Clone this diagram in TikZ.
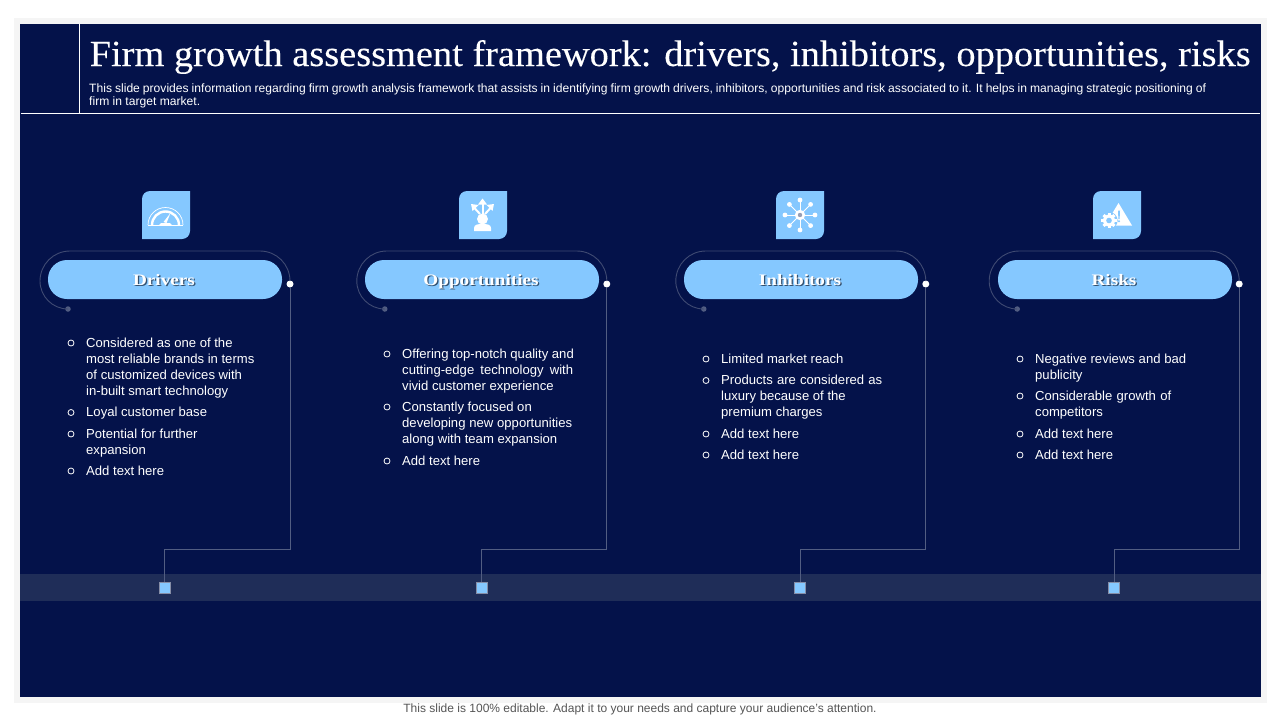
\documentclass[tikz,border=0pt]{standalone}
\usepackage{fontspec}
\setmainfont{Liberation Sans}
\newfontfamily\titlefont[FakeStretch=1.043,FakeBold=0.15]{Liberation Serif}
\newfontfamily\pillfont[FakeStretch=1.2]{Liberation Serif}
\definecolor{slidebg}{HTML}{04124A}
\definecolor{bandc}{HTML}{1F2D58}
\definecolor{skyc}{HTML}{85C8FF}
\definecolor{linec}{HTML}{525D82}
\definecolor{arcc}{HTML}{3F4A72}
\definecolor{footc}{HTML}{555555}
\definecolor{shc}{HTML}{33506F}
\newcommand{\pilltext}[1]{\hspace*{-2pt}\rlap{\raisebox{-1.2pt}{\hspace{1.2pt}\textcolor{shc}{#1}}}#1}
\newcommand{\iconbox}[1]{\fill[skyc] (#1+8,191) -- (#1+48,191) -- (#1+48,231) arc[start angle=0,end angle=90,radius=8] -- (#1,239) -- (#1,199) arc[start angle=180,end angle=270,radius=8] -- cycle;}
\newcommand{\curl}[3]{% L, index, square x
  \node[gdot] (g#2) at (#1+28,309) {};
  \node[wdot] (w#2) at (#1+250,284) {};
  \node[sqm] (s#2) at (#3,588) {};
  \coordinate (c#2) at (#3,549);
  \draw[arcline] (g#2.center) arc[start angle=90,end angle=180,radius=28] arc[start angle=180,end angle=270,radius=30] -- (#1+220,251) arc[start angle=270,end angle=360,radius=30] -- (w#2);
  \draw[conn] (w#2) |- (c#2) -- (s#2);
}
\newcommand{\bitem}[5]{% name, bullet x, text x, centre y of first line, text
  \node[bul] (b#1) at (#2,#4+1) {};
  \node[body] (t#1) at (#3,#4-4.6) {#5};
}
\newcommand{\sw}[2]{\makebox[#1pt][s]{#2}}
\tikzset{
  x=1pt,y=-1pt,
  gdot/.style={circle,fill=linec,draw=none,minimum size=5.5pt,inner sep=0pt},
  wdot/.style={circle,fill=white,draw=none,minimum size=7pt,inner sep=0pt},
  sqm/.style={rectangle,fill=skyc,draw=linec!70!white,line width=0.8pt,minimum size=11.5pt,inner sep=0pt},
  conn/.style={draw=linec,line width=0.9pt},
  arcline/.style={draw=arcc,line width=0.9pt},
  pill/.style={rectangle,rounded corners=19pt,fill=skyc,minimum width=234pt,minimum height=39pt,inner sep=0pt,text=white,text height=15pt,text depth=4pt,font=\pillfont\bfseries\fontsize{16}{18}\selectfont},
  bul/.style={circle,draw=white,line width=0.8pt,minimum size=6pt,inner sep=0pt},
  body/.style={anchor=north west,inner sep=0pt,text=white,align=left,font=\fontsize{13.1}{16}\selectfont},
  wline/.style={draw=white,line width=0.9pt}
}
\begin{document}
\begin{tikzpicture}
\useasboundingbox (0,0) rectangle (1280,720);
\fill[white] (0,0) rectangle (1280,720);
\fill[black!4] (14,18) rectangle (1267,703);
\fill[slidebg] (20,24) rectangle (1261,697);
\fill[bandc] (20,574) rectangle (1261,601);
% header
\coordinate (h1) at (79.5,24);
\coordinate (h2) at (79.5,113.5);
\coordinate (h3) at (21,113.5);
\coordinate (h4) at (1260,113.5);
\draw[wline] (h1) -- (h2);
\draw[wline] (h3) -- (h4);
\node[anchor=base west,inner sep=0pt,text=white,font=\titlefont\fontsize{36.8}{40}\selectfont] (title) at (89.5,66) {Firm growth assessment framework: drivers, inhibitors, opportunities, risks};
\node[body,font=\fontsize{12.1}{13}\selectfont] (sub) at (89,84) {\sw{1117}{This slide provides information regarding firm growth analysis framework that assists in identifying firm growth drivers, inhibitors, opportunities and risk associated to it. It helps in managing strategic positioning of}\\firm in target market.};
% icons
\iconbox{142}\iconbox{459}\iconbox{776}\iconbox{1093}
% gauge
\draw[white,line width=0.7pt] (148,225) arc[start angle=180,end angle=360,radius=17.5];
\draw[white,line width=2.4pt] (152,225) arc[start angle=180,end angle=360,radius=13.5];
\draw[white,line width=0.8pt] (148,225.5) -- (183,225.5);
\fill[white] (170.5,213) -- (163.5,222) -- (166.5,223) -- cycle;
\fill[white] (159,225) -- (161,223) -- (170,223) -- (172,225) -- cycle;
% person with arrows
\begin{scope}[white]
\fill (482.5,219) circle[radius=5.5];
\fill (474,231) -- (474,228) .. controls (474,224.5) and (478,224) .. (482.5,224) .. controls (487,224) and (491,224.5) .. (491,228) -- (491,231) -- cycle;
\draw[line width=2pt] (482.5,214) -- (482.5,203);
\fill (482.5,198.5) -- (487,204.5) -- (478,204.5) -- cycle;
\draw[line width=2pt] (480,214) -- (474,207.5);
\fill (471,204) -- (478.5,205) -- (472.5,211) -- cycle;
\draw[line width=2pt] (485,214) -- (491,207.5);
\fill (494,204) -- (486.5,205) -- (492.5,211) -- cycle;
\end{scope}
% network
\foreach \a in {0,45,...,315}{
  \draw[white,line width=0.9pt] (800,215) -- ++(\a:15);
  \fill[white] (800,215) ++(\a:15) circle[radius=2.4];
}
\fill[white] (800,215) circle[radius=5.2];
\fill[linec!60!white] (800,215) circle[radius=2.2];
% warning and gear
\fill[white] (1118.5,203) -- (1132,225.5) -- (1105,225.5) -- cycle;
\fill[skyc] (1118,210.5) -- (1120,210.5) -- (1119.6,219) -- (1118.4,219) -- cycle;
\fill[skyc] (1119,221.3) circle[radius=1.1];
\fill[skyc] (1109,220.5) circle[radius=8.6];
\foreach \a in {0,45,...,315}{
  \fill[white,rotate around={\a:(1109,220.5)}] (1107.5,212.8) rectangle (1110.5,216);
}
\fill[white] (1109,220.5) circle[radius=6];
\fill[skyc] (1109,220.5) circle[radius=2.8];
% pills
\node[pill] (p1) at (165,279.5) {\pilltext{Drivers}};
\node[pill] (p2) at (482,279.5) {\pilltext{Opportunities}};
\node[pill] (p3) at (801,279.5) {\pilltext{Inhibitors}};
\node[pill] (p4) at (1115,279.5) {\pilltext{Risks}};
% connectors
\curl{40}{1}{164.8}
\curl{356.8}{2}{481.8}
\curl{675.8}{3}{800}
\curl{989.2}{4}{1114}
% column 1
\bitem{1a}{71}{86}{342}{Considered as one of the\\most reliable brands in terms\\of customized devices with\\in-built smart technology}
\bitem{1b}{71}{86}{411.5}{Loyal customer base}
\bitem{1c}{71}{86}{433}{Potential for further\\expansion}
\bitem{1d}{71}{86}{470}{Add text here}
% column 2
\bitem{2a}{387}{402}{353}{Offering top-notch quality and\\\sw{171}{cutting-edge technology with}\\vivid customer experience}
\bitem{2b}{387}{402}{406}{Constantly focused on\\\sw{170}{developing new opportunities}\\along with team expansion}
\bitem{2c}{387}{402}{460}{Add text here}
% column 3
\bitem{3a}{706}{721}{358}{Limited market reach}
\bitem{3b}{706}{721}{379.5}{\sw{161}{Products are considered as}\\luxury because of the\\premium charges}
\bitem{3c}{706}{721}{433}{Add text here}
\bitem{3d}{706}{721}{454}{Add text here}
% column 4
\bitem{4a}{1020}{1035}{358}{\sw{151}{Negative reviews and bad}\\publicity}
\bitem{4b}{1020}{1035}{395}{\sw{136}{Considerable growth of}\\competitors}
\bitem{4c}{1020}{1035}{433}{Add text here}
\bitem{4d}{1020}{1035}{454}{Add text here}
% footer
\node[inner sep=0pt,text=footc,font=\fontsize{12}{14}\selectfont] (foot) at (640,709.5) {This slide is 100\% editable. Adapt it to your needs and capture your audience's attention.};
\end{tikzpicture}
\end{document}
